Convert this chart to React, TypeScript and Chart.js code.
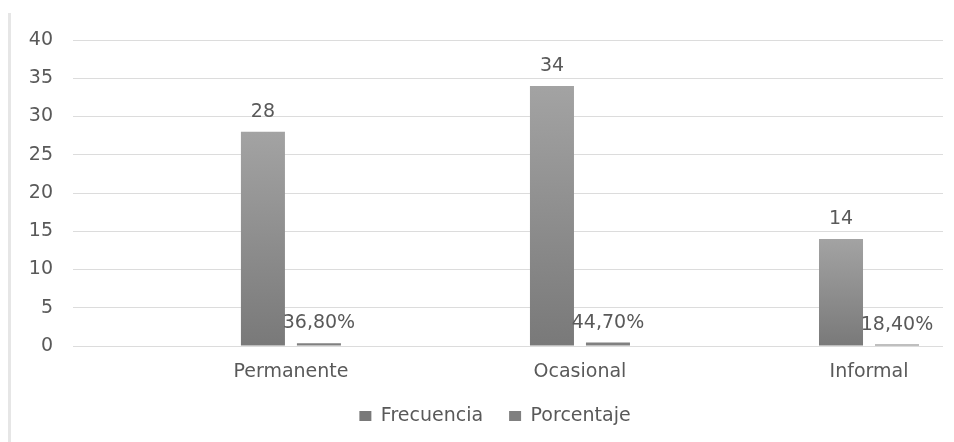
import React, { useEffect, useRef } from 'react';
import { Chart, registerables } from 'chart.js';

Chart.register(...registerables);

const categories = ['Permanente', 'Ocasional', 'Informal'];
const seriesNames = ['Frecuencia', 'Porcentaje'];
const frecuencia = [28, 34, 14];
const porcentaje = [0.368, 0.447, 0.184];
const yMin = 0;
const yMax = 40;
const yStep = 5;

const FONT = "'DejaVu Sans', 'Noto Sans', sans-serif";
const TEXT = '#595959';

const fmtPct = (v: number) => (v * 100).toFixed(2).replace('.', ',') + '%';

const valueLabels = {
  id: 'valueLabels',
  afterDatasetsDraw(chart: any) {
    const ctx = chart.ctx;
    ctx.save();
    ctx.font = `19px ${FONT}`;
    ctx.fillStyle = TEXT;
    ctx.textAlign = 'center';
    ctx.textBaseline = 'alphabetic';
    chart.data.datasets.forEach((ds: any, di: number) => {
      const meta = chart.getDatasetMeta(di);
      meta.data.forEach((el: any, i: number) => {
        const v = ds.data[i].y;
        const text = di === 0 ? String(v) : fmtPct(v);
        ctx.fillText(text, el.x, el.y - 15);
      });
    });
    ctx.restore();
  },
};

// shift the legend block a little to the right, as in the reference
const legendShift = {
  id: 'legendShift',
  afterLayout(chart: any) {
    if (chart.legend) {
      chart.legend.left = 47;
    }
  },
};

function gradientFill(c: any) {
  const chart = c.chart;
  const { ctx, chartArea, scales } = chart;
  if (!chartArea || c.type !== 'data') return '#8e8e8e';
  const y0 = scales.y.getPixelForValue(0);
  const y1 = scales.y.getPixelForValue(c.raw.y);
  if (!isFinite(y0) || !isFinite(y1) || y0 === y1) return '#7f7f7f';
  const g = ctx.createLinearGradient(0, y1, 0, y0);
  g.addColorStop(0, '#a3a3a3');
  g.addColorStop(1, '#797979');
  return g;
}

export default function App() {
  const ref = useRef<HTMLCanvasElement | null>(null);

  useEffect(() => {
    if (!ref.current) return;
    const chart = new Chart(ref.current, {
      type: 'bar',
      data: {
        datasets: [
          {
            label: seriesNames[0],
            data: frecuencia.map((v, i) => ({ x: i, y: v })),
            backgroundColor: gradientFill as any,
            borderWidth: 0,
          },
          {
            label: seriesNames[1],
            data: porcentaje.map((v, i) => ({ x: i, y: v })),
            backgroundColor: '#808080',
            borderWidth: 0,
          },
        ],
      },
      options: {
        responsive: false,
        animation: false,
        events: [],
        categoryPercentage: 0.3875,
        barPercentage: 0.786,
        layout: { padding: { left: 0, right: 11, top: 40, bottom: 6.5 } },
        font: { family: FONT, size: 19 },
        scales: {
          x: {
            type: 'linear',
            min: -0.754,
            max: 2.256,
            offset: false,
            grid: { display: false, drawTicks: false },
            border: { display: false },
            ticks: {
              stepSize: 1,
              includeBounds: false,
              autoSkip: false,
              maxRotation: 0,
              padding: 15,
              color: TEXT,
              font: { family: FONT, size: 19 },
              callback: (v: any) => (Number.isInteger(v) && categories[v] !== undefined ? categories[v] : ''),
            },
            afterFit: (s: any) => {
              s.height = 34.5;
            },
          },
          y: {
            min: yMin,
            max: yMax,
            grid: { color: '#dcdcdc', lineWidth: 1, drawTicks: false },
            border: { display: false },
            ticks: {
              stepSize: yStep,
              padding: 20,
              color: TEXT,
              font: { family: FONT, size: 19 },
            },
            afterFit: (s: any) => {
              s.width = 73;
            },
          },
        },
        plugins: {
          legend: {
            position: 'bottom',
            labels: {
              boxWidth: 12,
              boxHeight: 10,
              padding: 26,
              color: TEXT,
              font: { family: FONT, size: 19 },
            },
          },
          tooltip: { enabled: false },
        },
      } as any,
      plugins: [valueLabels, legendShift],
    });
    return () => chart.destroy();
  }, []);

  return (
    <div style={{ position: 'absolute', left: 0, top: 0, width: 954, height: 442, background: '#fff' }}>
      <div style={{ position: 'absolute', left: 8, top: 13, width: 3, height: 429, background: '#e6e6e6' }} />
      <canvas ref={ref} width={954} height={442} style={{ position: 'absolute', left: 0, top: 0, display: 'block' }} />
    </div>
  );
}
